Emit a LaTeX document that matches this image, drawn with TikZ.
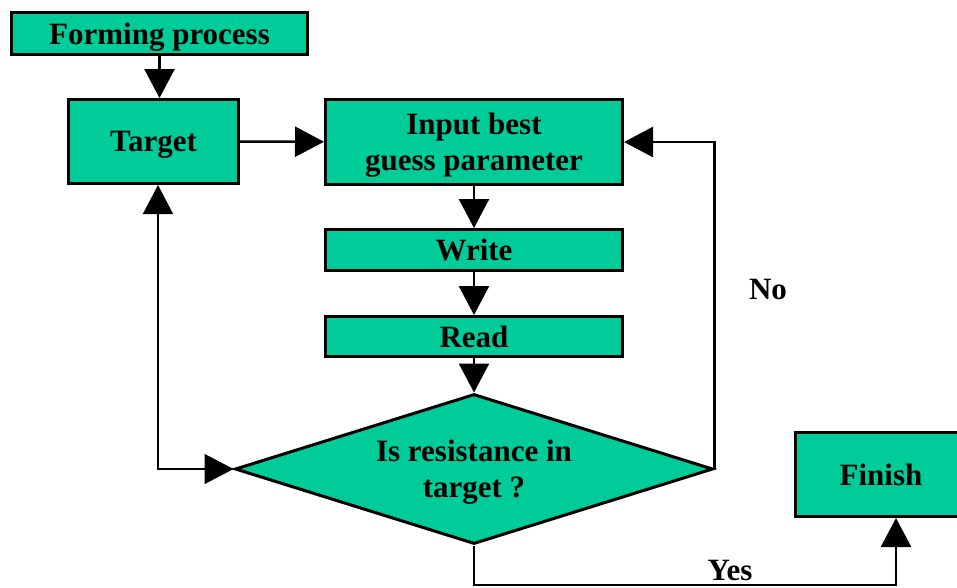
\documentclass[tikz,border=0pt]{standalone}
\usepackage{fontspec}
\setmainfont{Liberation Serif}
\usepackage{xcolor}
\usepackage{tikz}
\usetikzlibrary{positioning, shapes, arrows.meta, calc}

\definecolor{boxgreen}{RGB}{0,204,153}

\begin{document}
\begin{tikzpicture}[
      x=1pt, y=-1pt,
      every node/.style={align=center, font=\fontsize{31}{36}\selectfont\bfseries},
      stepbox/.style={rectangle, draw, line width=3pt, fill=boxgreen, inner sep=0pt, text depth=0pt},
      decision/.style={diamond, aspect=3.19, draw, line width=3pt, fill=boxgreen, inner sep=0pt,
        text depth=0pt, minimum width=478pt, minimum height=150pt},
      flow/.style={line width=2.5pt, -{Triangle[length=29pt, width=30pt]}},
      back/.style={line width=1.5pt, {Triangle[length=29pt, width=30pt]}-{Triangle[length=29pt, width=30pt]}}
    ]
      \useasboundingbox (0,0) rectangle (957,587);

      \node[stepbox, minimum width=296pt, minimum height=42pt] (forming) at (159.5,33.5) {Forming process};
      \node[stepbox, minimum width=170pt, minimum height=84pt] (target) at (153.5,141.5) {Target};
      \node[stepbox, minimum width=297pt, minimum height=85pt] (input) at (474,142) {Input best\\guess parameter};
      \node[stepbox, minimum width=297pt, minimum height=41pt] (write) at (474,250) {Write};
      \node[stepbox, minimum width=297pt, minimum height=40pt] (read) at (474,336.5) {Read};
      \node[decision] (check) at (474,469) {Is resistance in\\target ?};
      \node[stepbox, minimum width=171pt, minimum height=84pt] (finish) at (881,474.5) {Finish};

      \node[anchor=base] (no) at (768,299) {No};
      \node[anchor=base] (yes) at (730,580) {Yes};
      \coordinate (yesturn) at (474,585);

      \draw[flow] (forming) -- (forming |- target.north);
      \draw[flow] (target) -- (input);
      \draw[flow] (input) -- (write);
      \draw[flow] (write) -- (read);
      \draw[flow] (read) -- (check);
      \draw[flow] (check.east) |- (input.east);
      \draw[flow] (check.south) -- (yesturn) -| ([xshift=15pt]finish.south);
      \draw[back] (check.west) -| ([xshift=4.5pt]target.south);
    \end{tikzpicture}
\end{document}
